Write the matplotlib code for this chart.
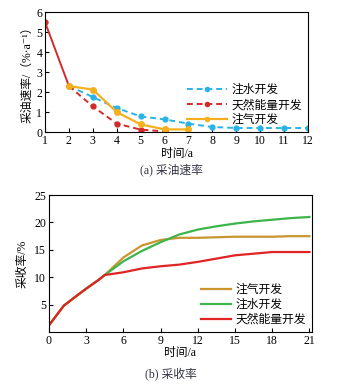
import matplotlib
matplotlib.use("Agg")
import matplotlib.pyplot as plt
from matplotlib.lines import Line2D

plt.rcParams['font.family'] = ['Liberation Serif', 'Noto Sans CJK SC', 'DejaVu Sans']
plt.rcParams['axes.unicode_minus'] = False

# (a) oil production rate, %/a
t_a = [1, 2, 3, 4, 5, 6, 7, 8, 9, 10, 11, 12]
water_rate = [None, 2.3, 1.75, 1.2, 0.78, 0.63, 0.42, 0.25, 0.2, 0.2, 0.2, 0.2]
natural_rate = [5.5, 2.3, 1.28, 0.42, 0.12, 0.03]
gas_rate = [None, 2.3, 2.12, 1.0, 0.38, 0.13, 0.13]

# (b) recovery factor, %
t_common = [0, 1.2, 2, 3, 4, 4.5]
rf_common = [1.2, 4.8, 6.2, 7.9, 9.5, 10.4]
t_b = [4.5, 6, 7.5, 9, 10.5, 12, 13.5, 15, 16.5, 18, 19.5, 21]
rf_gas = [10.4, 13.6, 15.8, 16.8, 17.2, 17.2, 17.3, 17.4, 17.4, 17.4, 17.5, 17.5]
rf_water = [10.4, 12.9, 14.8, 16.4, 17.8, 18.7, 19.3, 19.8, 20.2, 20.5, 20.8, 21.0]
rf_natural = [10.4, 10.9, 11.6, 12.0, 12.3, 12.8, 13.4, 14.0, 14.3, 14.6, 14.6, 14.6]

labels_a = ['注水开发', '天然能量开发', '注气开发']
labels_b = ['注气开发', '注水开发', '天然能量开发']

c_cyan = '#2ab4e6'
c_red = '#d22a2a'
c_orange = '#f6b01e'
c_gold = '#c9952f'
c_green = '#3cb54a'
c_red2 = '#e02424'

fig = plt.figure(figsize=(3.42, 3.91), dpi=100)
fs = 8.5

# ---- (a) ----
ax1 = fig.add_axes([0.1316, 0.6624, 0.769, 0.3066])
xw = [x for x, v in zip(t_a, water_rate) if v is not None]
yw = [v for v in water_rate if v is not None]
ax1.plot(xw, yw, ls='--', color=c_cyan, marker='o', ms=3.5, lw=1.4, dashes=(3, 2))
ax1.plot(t_a[:2], natural_rate[:2], ls='-', color=c_red, lw=1.4, marker='o', ms=3.5)
ax1.plot(t_a[1:len(natural_rate)], natural_rate[1:], ls='--', color=c_red,
         marker='o', ms=3.5, lw=1.4, dashes=(3, 2))
xg = [x for x, v in zip(t_a, gas_rate) if v is not None]
yg = [v for v in gas_rate if v is not None]
ax1.plot(xg, yg, ls='-', color=c_orange, marker='o', ms=4, lw=1.6)
ax1.set_xlim(1, 12)
ax1.set_ylim(0, 6)
ax1.set_xticks(t_a)
ax1.set_yticks(range(0, 7))
ax1.tick_params(direction='in', labelsize=fs, length=3, pad=2)
ax1.set_xlabel('时间/a', fontsize=fs, labelpad=1)
ax1.set_ylabel('采油速率/（%·a⁻¹）', fontsize=fs, labelpad=2)
handles_a = [
    Line2D([], [], ls='--', color=c_cyan, marker='o', ms=3, lw=1.4, dashes=(3, 2)),
    Line2D([], [], ls='--', color=c_red, marker='o', ms=3, lw=1.4, dashes=(3, 2)),
    Line2D([], [], ls='-', color=c_orange, marker='o', ms=3, lw=1.6),
]
ax1.legend(handles_a, labels_a, loc='lower right', bbox_to_anchor=(1.0, 0.0),
           frameon=False, fontsize=fs, handlelength=3.4, handletextpad=0.4,
           labelspacing=0.25, borderaxespad=0.1)
fig.text(0.5, 0.565, '(a) 采油速率', ha='center', va='center', fontsize=fs,
         color='#333344')

# ---- (b) ----
ax2 = fig.add_axes([0.143, 0.151, 0.769, 0.350])
ax2.plot(t_common + t_b[1:], rf_common + rf_gas[1:], color=c_gold, lw=1.6)
ax2.plot(t_common + t_b[1:], rf_common + rf_water[1:], color=c_green, lw=1.6)
ax2.plot(t_common + t_b[1:], rf_common + rf_natural[1:], color=c_red2, lw=1.6)
ax2.set_xlim(0, 21.2)
ax2.set_ylim(0, 25)
ax2.set_xticks(range(0, 22, 3))
ax2.set_yticks([5, 10, 15, 20, 25])
ax2.tick_params(direction='in', labelsize=fs, length=3, pad=2)
ax2.set_xlabel('时间/a', fontsize=fs, labelpad=0)
ax2.set_ylabel('采收率/%', fontsize=fs, labelpad=4)
handles_b = [Line2D([], [], color=c, lw=1.6) for c in (c_gold, c_green, c_red2)]
ax2.legend(handles_b, labels_b, loc='lower right', bbox_to_anchor=(1.0, 0.0),
           frameon=False, fontsize=fs, handlelength=2.5, handletextpad=0.4,
           labelspacing=0.25, borderaxespad=0.1)
fig.text(0.5, 0.043, '(b) 采收率', ha='center', va='center', fontsize=fs,
         color='#333344')

fig.savefig('out.png', dpi=100)
